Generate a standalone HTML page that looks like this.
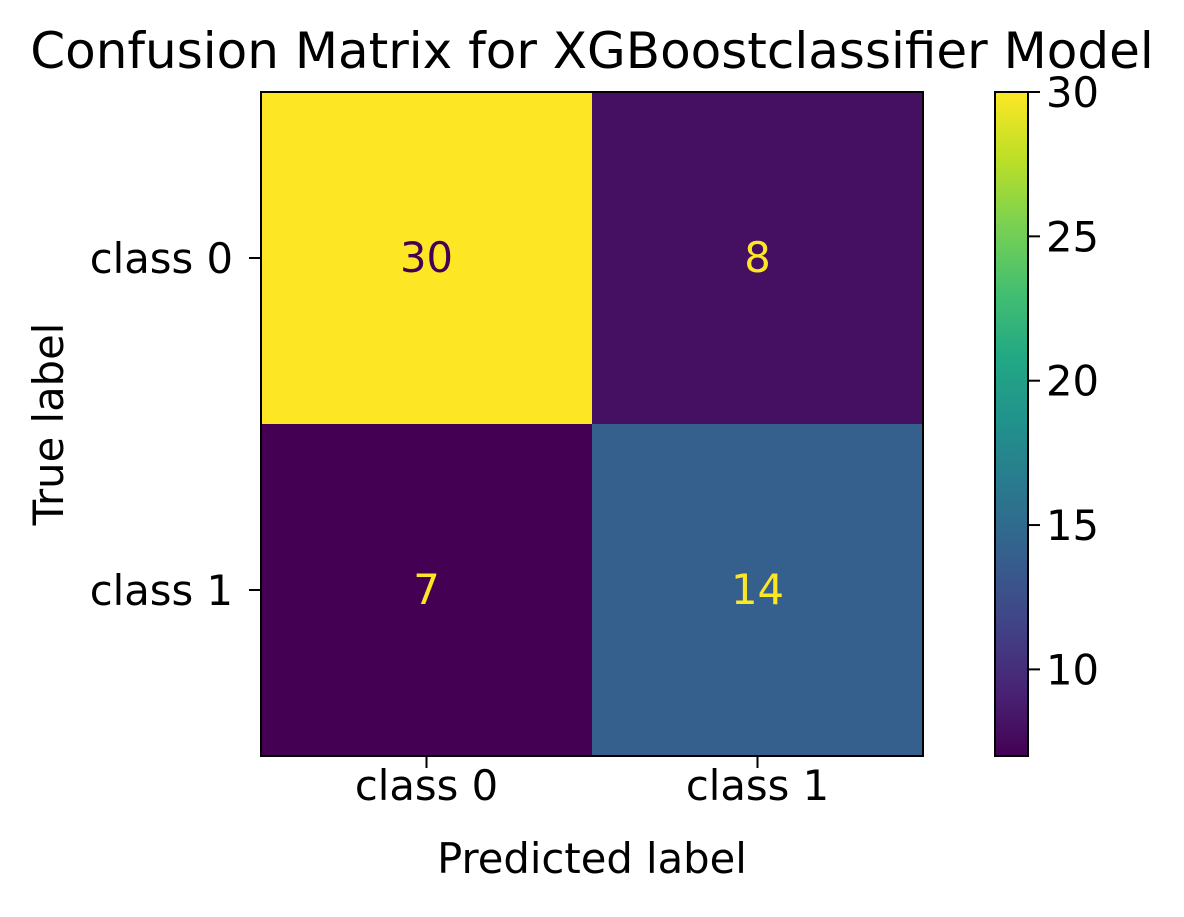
<!DOCTYPE html>
<html><head><meta charset="utf-8"><style>
body{margin:0;background:#fff;}
svg text{font-family:"DejaVu Sans","Liberation Sans",sans-serif;fill:#000;}
</style></head><body>
<svg id="chart" width="1184" height="912" xmlns="http://www.w3.org/2000/svg">
<rect width="1184" height="912" fill="#fff"/>
<text x="592" y="68" font-size="50" text-anchor="middle">Confusion Matrix for XGBoostclassifier Model</text>
<defs><linearGradient id="vir" x1="0" y1="1" x2="0" y2="0">
<stop offset="0" stop-color="#440154"/><stop offset="0.1" stop-color="#482475"/><stop offset="0.2" stop-color="#414487"/><stop offset="0.3" stop-color="#355f8d"/><stop offset="0.4" stop-color="#2a788e"/><stop offset="0.5" stop-color="#21918c"/><stop offset="0.6" stop-color="#22a884"/><stop offset="0.7" stop-color="#44bf70"/><stop offset="0.8" stop-color="#7ad151"/><stop offset="0.9" stop-color="#bddf26"/><stop offset="1" stop-color="#fde725"/>
</linearGradient></defs>
<g id="cells"></g>
<rect x="261" y="92" width="662" height="664" fill="none" stroke="#000" stroke-width="2"/>
<g id="axes"></g>
<text x="592" y="873" font-size="41.7" text-anchor="middle">Predicted label</text>
<text transform="translate(63,424) rotate(-90)" font-size="41.7" text-anchor="middle">True label</text>
<rect x="995" y="92" width="33" height="664" fill="url(#vir)" stroke="#000" stroke-width="2"/>
<g id="cbticks"></g>
</svg>
<script>
const classes=["class 0","class 1"];
const matrix=[[30,8],[7,14]];
const cbTicks=[10,15,20,25,30];
const vmin=7, vmax=30;
const stops=["#440154","#482475","#414487","#355f8d","#2a788e","#21918c","#22a884","#44bf70","#7ad151","#bddf26","#fde725"];
function hx(c){return [1,3,5].map(i=>parseInt(c.substr(i,2),16));}
function viridis(t){t=Math.max(0,Math.min(1,t));const p=t*10,i=Math.min(9,Math.floor(p)),f=p-i;const a=hx(stops[i]),b=hx(stops[i+1]);return "rgb("+a.map((v,k)=>Math.round(v+(b[k]-v)*f)).join(",")+")";}
const NS="http://www.w3.org/2000/svg";
const X0=261,Y0=92,W=662,H=664,n=classes.length,cw=W/n,ch=H/n;
function el(tag,attrs,parent,txt){const e=document.createElementNS(NS,tag);for(const k in attrs)e.setAttribute(k,attrs[k]);if(txt!==undefined)e.textContent=txt;parent.appendChild(e);return e;}
const cells=document.getElementById('cells'),axes=document.getElementById('axes'),cb=document.getElementById('cbticks');
matrix.forEach((row,r)=>row.forEach((v,c)=>{
 const t=(v-vmin)/(vmax-vmin);
 const rc=el('rect',{x:X0+c*cw,y:Y0+r*ch,width:cw+0.5,height:ch+0.5,fill:viridis(t)},cells);
 
 
 const tx=el('text',{x:X0+(c+0.5)*cw,y:Y0+(r+0.5)*ch+14,'font-size':41.7,'text-anchor':'middle',style:'fill:'+(t>0.5?'#440154':'#fde725')},cells,String(v));
 
 
}));
classes.forEach((cl,i)=>{
 const x=X0+(i+0.5)*cw,y=Y0+(i+0.5)*ch;
 el('line',{x1:x,x2:x,y1:Y0+H,y2:Y0+H+12,stroke:'#000','stroke-width':2},axes);
 const xt=el('text',{x:x,y:Y0+H+44,'font-size':41.7,'text-anchor':'middle'},axes,cl);
 
 
 el('line',{x1:X0-12,x2:X0,y1:y,y2:y,stroke:'#000','stroke-width':2},axes);
 const yt=el('text',{x:X0-28,y:y+15,'font-size':41.7,'text-anchor':'end'},axes,cl);
 
 
});
cbTicks.forEach(v=>{
 const y=Y0+H-(v-vmin)/(vmax-vmin)*H;
 el('line',{x1:1028,x2:1040,y1:y,y2:y,stroke:'#000','stroke-width':2},cb);
 const t=el('text',{x:1046,y:y+15,'font-size':41.7},cb,String(v));
 
 
});
</script>
</body></html>
